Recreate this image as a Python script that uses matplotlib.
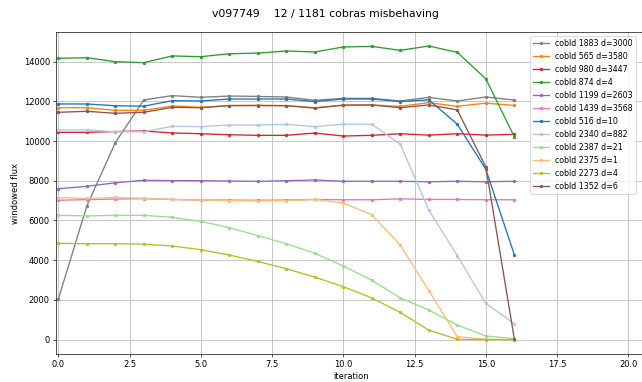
import matplotlib
matplotlib.use("Agg")
import matplotlib.pyplot as plt
import numpy as np

iterations = list(range(17))

labels = [
    "cobId 1883 d=3000", "cobId 565 d=3580", "cobId 980 d=3447", "cobId 874 d=4",
    "cobId 1199 d=2603", "cobId 1439 d=3568", "cobId 516 d=10", "cobId 2340 d=882",
    "cobId 2387 d=21", "cobId 2375 d=1", "cobId 2273 d=4", "cobId 1352 d=6",
]

flux_1883 = [2030, 6720, 9920, 12070, 12290, 12205, 12270, 12250, 12220, 12055, 12150, 12150, 12020, 12200, 12020, 12220, 12070]
flux_565 = [11680, 11680, 11550, 11550, 11770, 11700, 11785, 11800, 11790, 11680, 11810, 11820, 11750, 11935, 11750, 11910, 11800]
flux_980 = [10440, 10440, 10480, 10510, 10410, 10370, 10320, 10290, 10290, 10405, 10255, 10290, 10370, 10300, 10370, 10300, 10340]
flux_874 = [14170, 14200, 14000, 13950, 14290, 14250, 14400, 14430, 14540, 14490, 14740, 14770, 14570, 14790, 14470, 13140, 10220]
flux_1199 = [7600, 7720, 7900, 8025, 8010, 8005, 7990, 7970, 8005, 8040, 7975, 7975, 7975, 7950, 7975, 7950, 7975]
flux_1439 = [7020, 7050, 7080, 7100, 7060, 7030, 7030, 7020, 7030, 7060, 7045, 7045, 7090, 7060, 7060, 7045, 7045]
flux_516 = [11870, 11870, 11780, 11760, 12035, 12020, 12120, 12120, 12120, 11990, 12120, 12120, 11990, 12080, 10850, 8580, 4280]
flux_2340 = [10560, 10560, 10470, 10470, 10745, 10730, 10810, 10810, 10840, 10730, 10850, 10850, 9840, 6530, 4230, 1830, 800]
flux_2387 = [6260, 6230, 6260, 6260, 6160, 5960, 5640, 5240, 4830, 4350, 3710, 2990, 2100, 1490, 735, 180, 50]
flux_2375 = [7150, 7110, 7160, 7120, 7060, 7030, 7000, 6990, 7000, 7060, 6880, 6290, 4765, 2465, 150, 15, 0]
flux_2273 = [4850, 4830, 4830, 4810, 4715, 4530, 4260, 3940, 3570, 3150, 2665, 2100, 1370, 480, 15, 0, 0]
flux_1352 = [11450, 11500, 11400, 11450, 11700, 11680, 11790, 11790, 11780, 11660, 11810, 11820, 11680, 11820, 11570, 8700, 50]

series = [flux_1883, flux_565, flux_980, flux_874, flux_1199, flux_1439,
          flux_516, flux_2340, flux_2387, flux_2375, flux_2273, flux_1352]
colors = ["#7f7f7f", "#ff7f0e", "#d62728", "#2ca02c", "#9467bd", "#e377c2",
          "#1f77b4", "#aec7e8", "#98df8a", "#ffbb78", "#bcbd22", "#8c564b"]

W, H = 642, 382
fig = plt.figure(figsize=(W / 60, H / 60), dpi=60)
ax_l, ax_r, ax_t, ax_b = 55.7, 646, 31.7, 354.3
ax = fig.add_axes([ax_l / W, (H - ax_b) / H, (ax_r - ax_l) / W, (ax_b - ax_t) / H])

for vals, lab, col in zip(series, labels, colors):
    ax.plot(iterations, vals, marker=".", color=col, label=lab, linewidth=1.6)

ax.set_xlim(-0.09, (ax_r - 58.3) / 28.5)
ax.set_ylim(-740, 15510)
ax.set_xticks([0, 2.5, 5, 7.5, 10, 12.5, 15, 17.5, 20])
ax.grid(True, color="#c8c8c8", linewidth=1.2)
ax.set_xlabel("iteration")
ax.set_ylabel("windowed flux")
fig.suptitle("v097749    12 / 1181 cobras misbehaving", fontsize=13,
             x=325 / W, y=1 - 14 / H, va="center")
ax.legend(loc="upper left", fontsize=9.5, labelspacing=0.5,
          bbox_to_anchor=((530 - ax_l) / (ax_r - ax_l), 1 - (36 - ax_t) / (ax_b - ax_t)),
          borderaxespad=0)

fig.savefig("out.png", dpi=60)
